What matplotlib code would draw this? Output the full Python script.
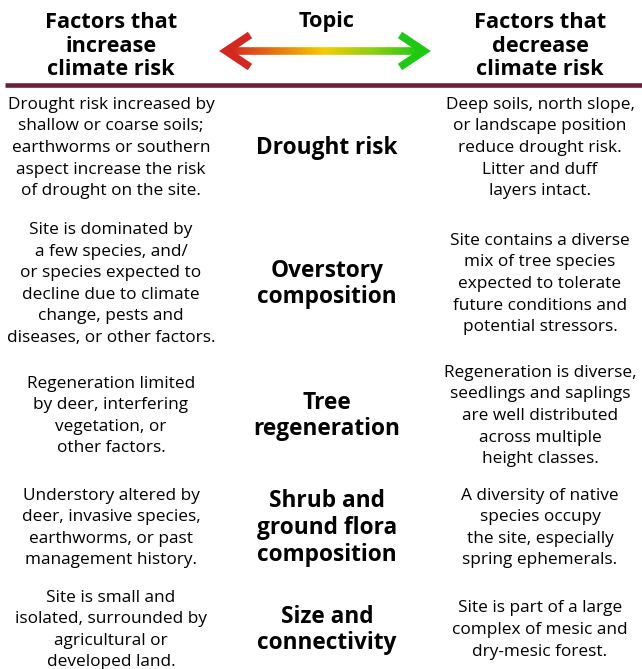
import numpy as np
import matplotlib.pyplot as plt
from matplotlib.collections import LineCollection
from matplotlib.colors import LinearSegmentedColormap

plt.rcParams['font.family'] = ['Open Sans', 'DejaVu Sans']

# ---- data ----
headers = ["Factors that\nincrease\nclimate risk", "Topic", "Factors that\ndecrease\nclimate risk"]

topics = [
    "Drought risk",
    "Overstory\ncomposition",
    "Tree\nregeneration",
    "Shrub and\nground flora\ncomposition",
    "Size and\nconnectivity",
]

increase = [
    "Drought risk increased by\nshallow or coarse soils;\nearthworms or southern\naspect increase the risk\nof drought on the site.",
    "Site is dominated by\na few species, and/\nor species expected to\ndecline due to climate\nchange, pests and\ndiseases, or other factors.",
    "Regeneration limited\nby deer, interfering\nvegetation, or\nother factors.",
    "Understory altered by\ndeer, invasive species,\nearthworms, or past\nmanagement history.",
    "Site is small and\nisolated, surrounded by\nagricultural or\ndeveloped land.",
]

decrease = [
    "Deep soils, north slope,\nor landscape position\nreduce drought risk.\nLitter and duff\nlayers intact.",
    "Site contains a diverse\nmix of tree species\nexpected to tolerate\nfuture conditions and\npotential stressors.",
    "Regeneration is diverse,\nseedlings and saplings\nare well distributed\nacross multiple\nheight classes.",
    "A diversity of native\nspecies occupy\nthe site, especially\nspring ephemerals.",
    "Site is part of a large\ncomplex of mesic and\ndry-mesic forest.",
]

# ---- layout (pixels) ----
W, H = 642, 669
col_x = [111, 327, 540]
row_y = [148, 284, 416, 528, 630]

fig = plt.figure(figsize=(W / 100, H / 100), dpi=100)
ax = fig.add_axes([0, 0, 1, 1])
ax.set_xlim(0, W)
ax.set_ylim(H, 0)
ax.axis('off')

# headers
ax.text(col_x[0], 46, headers[0], ha='center', va='center', fontsize=15.7,
        fontweight='bold', linespacing=1.18)
ax.text(col_x[1], 22, headers[1], ha='center', va='center', fontsize=15.7,
        fontweight='bold')
ax.text(col_x[2], 46, headers[2], ha='center', va='center', fontsize=15.7,
        fontweight='bold', linespacing=1.18)

# gradient arrow
cmap = LinearSegmentedColormap.from_list(
    'risk', ['#d2281f', '#e8780f', '#f6cc00', '#8ccf10', '#1ec914'])
xs = np.linspace(229, 421, 200)
segs = [[(xs[i], 51), (xs[i + 1], 51)] for i in range(len(xs) - 1)]
lc = LineCollection(segs, colors=cmap(np.linspace(0, 1, len(segs))),
                    linewidths=5.5, capstyle='butt')
ax.add_collection(lc)
ax.plot([250, 226, 250], [35, 51, 67], color='#d2281f', lw=5.5,
        solid_joinstyle='miter', solid_capstyle='butt')
ax.plot([400, 424, 400], [35, 51, 67], color='#1ec914', lw=5.5,
        solid_joinstyle='miter', solid_capstyle='butt')

# separator
ax.plot([5, W], [85, 85], color='#6a1e3b', lw=3.3, solid_capstyle='butt')

# rows
for y, left, topic, right in zip(row_y, increase, topics, decrease):
    ax.text(col_x[0], y, left, ha='center', va='center', fontsize=12.4,
            linespacing=1.47)
    ax.text(col_x[1], y, topic, ha='center', va='center', fontsize=16.3,
            fontweight='bold', linespacing=1.14)
    ax.text(col_x[2], y, right, ha='center', va='center', fontsize=12.4,
            linespacing=1.47)

fig.savefig('out.png', dpi=100)
